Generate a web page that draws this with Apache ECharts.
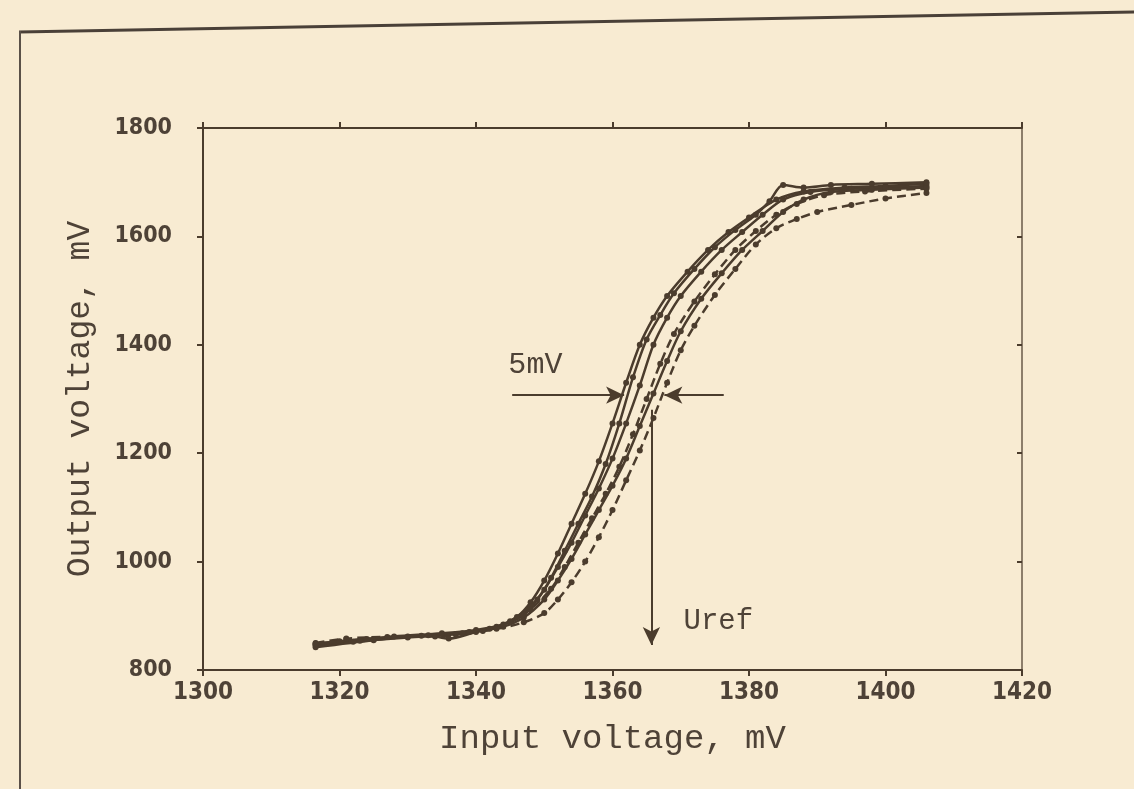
<!DOCTYPE html>
<html>
<head>
<meta charset="utf-8">
<title>Output vs input voltage</title>
<script src="https://cdn.jsdelivr.net/npm/echarts@6/dist/echarts.min.js"></script>
<style>
  html, body { margin: 0; padding: 0; background: #f8ebd2; }
  #chart { width: 1134px; height: 789px; }
</style>
</head>
<body>
<div id="chart"></div>
<script>
// Tick labels
const xTicks = [1300, 1320, 1340, 1360, 1380, 1400, 1420];
const yTicks = [800, 1000, 1200, 1400, 1600, 1800];

// Measured transfer curves: [input mV, output mV]
const curve1 = [[1316.5,848],[1324,857],[1332,863],[1339,870],[1343,880],[1346,898],[1348,925],[1350,965],[1352,1015],[1354,1070],[1356,1125],[1358,1185],[1360,1255],[1362,1330],[1364,1400],[1366,1450],[1368,1490],[1371,1535],[1374,1575],[1377,1608],[1380,1635],[1384,1668],[1388,1683],[1394,1690],[1400,1693],[1406,1697]];
const curve2 = [[1316.5,845],[1322,852],[1330,860],[1337,866],[1342,876],[1345,890],[1348,918],[1350,948],[1352,990],[1354,1035],[1356,1085],[1358,1135],[1360,1190],[1362,1255],[1364,1325],[1366,1400],[1368,1450],[1370,1490],[1373,1535],[1376,1575],[1379,1608],[1382,1640],[1385,1668],[1389,1682],[1395,1688],[1400,1690],[1406,1693]];
const curve3 = [[1316.5,850],[1321,858],[1327,861],[1334,862],[1341,872],[1345,888],[1348,912],[1351,950],[1353,990],[1355,1035],[1357,1080],[1359,1125],[1361,1175],[1363,1235],[1365,1300],[1367,1365],[1369,1420],[1372,1480],[1375,1530],[1378,1575],[1381,1610],[1384,1640],[1387,1660],[1391,1676],[1397,1683],[1406,1688]];
const curve4 = [[1316.5,842],[1325,855],[1333,864],[1336,858],[1340,870],[1344,880],[1347,897],[1350,930],[1352,965],[1354,1005],[1356,1050],[1358,1095],[1360,1140],[1362,1190],[1364,1250],[1366,1310],[1368,1370],[1370,1425],[1373,1485],[1376,1532],[1379,1575],[1382,1610],[1385,1645],[1388,1668],[1392,1682],[1398,1686],[1406,1690]];
const curve5 = [[1316.5,846],[1323,854],[1330,862],[1338,868],[1343,876],[1347,888],[1350,905],[1352,930],[1354,962],[1356,1000],[1358,1045],[1360,1095],[1362,1150],[1364,1205],[1366,1265],[1368,1330],[1370,1390],[1372,1435],[1375,1492],[1378,1540],[1381,1585],[1384,1615],[1387,1632],[1390,1645],[1395,1658],[1400,1670],[1406,1680]];
const curve6 = [[1316.5,849],[1320,853],[1328,862],[1335,868],[1340,874],[1344,884],[1347,902],[1349,930],[1351,970],[1353,1020],[1355,1070],[1357,1120],[1359,1180],[1361,1255],[1363,1340],[1365,1410],[1367,1455],[1369,1495],[1372,1540],[1375,1580],[1378,1612],[1381,1640],[1383,1665],[1385,1695],[1388,1690],[1392,1695],[1398,1697],[1406,1700]];

// Annotation positions (data units)
const widthArrowLeft = [[1345.3,1307],[1361.7,1307]];
const widthArrowRight = [[1376.3,1307],[1367.6,1307]];
const urefArrow = [[1365.7,1280],[1365.7,846]];
const label5mV = [1348.7,1363];
const labelUref = [1375.5,889];

const INK = '#4b3c2d';
const TEXT = '#4e4237';
const numFont = '"Liberation Sans Narrow", "DejaVu Sans Condensed", "Liberation Sans", sans-serif';
const monoFont = '"Liberation Mono", "DejaVu Sans Mono", monospace';

const myChart = echarts.init(document.getElementById('chart'));

function curveSeries(name, data, dashed) {
  return {
    name: name,
    type: 'line',
    data: data,
    smooth: 0.3,
    symbol: 'circle',
    symbolSize: 6,
    itemStyle: { color: INK },
    lineStyle: { color: INK, width: 2.5, type: dashed ? [9, 5] : 'solid' },
    z: 3
  };
}

const series = [
  curveSeries('c1', curve1, false),
  curveSeries('c2', curve2, false),
  curveSeries('c3', curve3, true),
  curveSeries('c4', curve4, false),
  curveSeries('c5', curve5, true),
  curveSeries('c6', curve6, false)
];

// arrows + text annotations on the first series
series[0].markLine = {
  silent: true,
  symbol: ['none', 'arrow'],
  symbolSize: [13, 18],
  label: { show: false },
  lineStyle: { color: INK, width: 2, type: 'solid' },
  data: [widthArrowLeft, widthArrowRight, urefArrow].map(p => [{ coord: p[0] }, { coord: p[1] }])
};
series[0].markPoint = {
  silent: true,
  symbol: 'circle',
  symbolSize: 1,
  itemStyle: { color: 'rgba(0,0,0,0)' },
  label: { show: true, position: 'inside', color: TEXT, fontFamily: monoFont },
  data: [
    { coord: label5mV, value: '5mV', label: { formatter: '5mV', fontSize: 30 } },
    { coord: labelUref, value: 'Uref', label: { formatter: 'Uref', fontSize: 29 } }
  ]
};

const plain = v => String(v);

const option = {
  backgroundColor: '#f8ebd2',
  animation: false,
  grid: { left: 203, top: 128, width: 819, height: 542 },
  xAxis: [
    {
      type: 'value', position: 'bottom', min: xTicks[0], max: xTicks[xTicks.length - 1], interval: 20,
      name: 'Input voltage, mV', nameLocation: 'middle', nameGap: 52,
      nameTextStyle: { fontFamily: monoFont, fontSize: 34, color: TEXT },
      axisLine: { lineStyle: { color: INK, width: 2 } },
      axisTick: { show: true, inside: false, length: 6, lineStyle: { color: INK, width: 2 } },
      axisLabel: { color: TEXT, fontFamily: numFont, fontSize: 24, fontWeight: 'bold', margin: 11, formatter: plain },
      splitLine: { show: false }
    },
    {
      type: 'value', position: 'top', min: xTicks[0], max: xTicks[xTicks.length - 1], interval: 20,
      axisLine: { lineStyle: { color: INK, width: 2 } },
      axisTick: { show: true, inside: false, length: 6, lineStyle: { color: INK, width: 2 } },
      axisLabel: { show: false },
      splitLine: { show: false }
    }
  ],
  yAxis: [
    {
      type: 'value', position: 'left', min: yTicks[0], max: yTicks[yTicks.length - 1], interval: 200,
      name: 'Output voltage, mV', nameLocation: 'middle', nameGap: 106, nameRotate: 90,
      nameTextStyle: { fontFamily: monoFont, fontSize: 33, color: TEXT },
      axisLine: { show: true, lineStyle: { color: INK, width: 2 } },
      axisTick: { show: true, inside: false, length: 6, lineStyle: { color: INK, width: 2 } },
      axisLabel: { color: TEXT, fontFamily: numFont, fontSize: 23, fontWeight: 'bold', margin: 31, formatter: plain },
      splitLine: { show: false }
    },
    {
      type: 'value', position: 'right', min: yTicks[0], max: yTicks[yTicks.length - 1], interval: 200,
      axisLine: { show: true, lineStyle: { color: '#6a5a48', width: 1.5 } },
      axisTick: { show: true, inside: true, length: 5, lineStyle: { color: INK, width: 2 } },
      axisLabel: { show: false },
      splitLine: { show: false }
    }
  ],
  graphic: [
    // edges of the scanned page
    { type: 'line', shape: { x1: 19, y1: 32, x2: 1134, y2: 12 }, style: { stroke: '#4a4038', lineWidth: 3 }, silent: true },
    { type: 'line', shape: { x1: 20, y1: 31, x2: 20, y2: 789 }, style: { stroke: '#5a5048', lineWidth: 2 }, silent: true }
  ],
  series: series
};

myChart.setOption(option);
</script>
</body>
</html>
